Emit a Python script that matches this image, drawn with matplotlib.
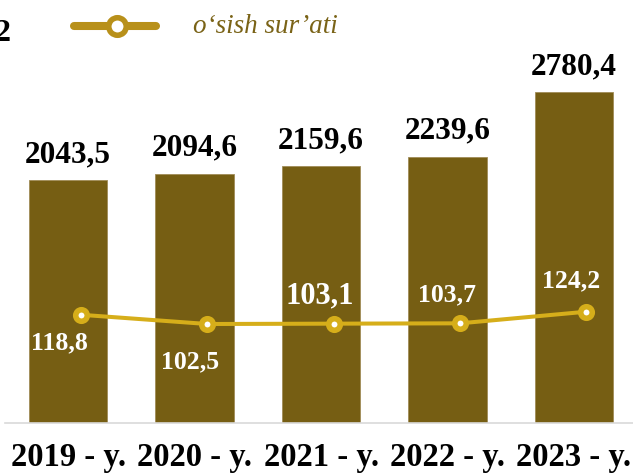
import matplotlib
matplotlib.use("Agg")
import matplotlib.pyplot as plt
from matplotlib.lines import Line2D

# ---- data ----
years = ["2019 - y.", "2020 - y.", "2021 - y.", "2022 - y.", "2023 - y."]
volume = [2043.5, 2094.6, 2159.6, 2239.6, 2780.4]
growth = [118.8, 102.5, 103.1, 103.7, 124.2]
legend_label = "o\u2018sish sur\u2019ati"

def fmt(v):
    return f"{v:.1f}".replace(".", ",")

W, H = 633, 475
fig = plt.figure(figsize=(W / 100, H / 100), dpi=100)
serif = ["Liberation Serif", "DejaVu Serif"]

bar_color = "#765E13"
line_color = "#D6AE1A"
legend_line_color = "#B8901A"
legend_text_color = "#7A6317"

ax = fig.add_axes([5 / W, (H - 423) / H, 632 / W, 356.7 / H])
x = list(range(len(years)))
ax.bar(x, volume, width=0.62, color=bar_color, edgecolor="#A08C58", linewidth=0.6, zorder=2)
ax.set_xlim(-0.5, 4.5)
ax.set_ylim(0, 3000)
for s in ["top", "left", "right"]:
    ax.spines[s].set_visible(False)
ax.spines["bottom"].set_color("#D9D9D9")
ax.spines["bottom"].set_linewidth(1.2)
ax.set_yticks([])
ax.set_xticks(x)
ax.set_xticklabels(years, fontfamily=serif, fontweight="bold", fontsize=23.5)
ax.tick_params(axis="x", length=0, pad=14)

for xi, v in zip(x, volume):
    ax.annotate(fmt(v), (xi, v), xytext=(0, 8), textcoords="offset points",
                ha="center", va="bottom", fontfamily=serif, fontweight="bold",
                fontsize=22.5, color="black")

ax2 = ax.twinx()
ax2.set_ylim(-72.1, 557)
ax2.set_axis_off()
line_x = [xi + 0.1 for xi in x]
ax2.plot(line_x, growth, color=line_color, lw=2.9, marker="o", ms=8.3, mew=4,
         mfc="white", mec=line_color, zorder=3, solid_capstyle="round")

lab_dx = [-6, -3, -1, 0, -2]          # points
lab_dy = [-20.5, -27.4, 20.2, 20.4, 22.3]  # points
lab_fs = [18.5, 18.5, 22, 18.5, 18.5]
for xi, g, dx, dy, fs in zip(x, growth, lab_dx, lab_dy, lab_fs):
    ax2.annotate(fmt(g), (xi + 0.1, g), xytext=(dx - 0.1 * 126.4 * 0.72, dy),
                 textcoords="offset points", ha="center", va="center",
                 fontfamily=serif, fontweight="bold", fontsize=fs, color="white",
                 zorder=4)

# ---- legend (manual, figure pixel coords) ----
def fy(py):
    return (H - py) / H

fig.add_artist(Line2D([74 / W, 156 / W], [fy(26), fy(26)], transform=fig.transFigure,
                      color=legend_line_color, lw=5.8, solid_capstyle="round"))
fig.add_artist(Line2D([117 / W], [fy(26)], transform=fig.transFigure, marker="o",
                      ms=12.6, mew=4, mfc="white", mec=legend_line_color, lw=0))
fig.text(193 / W, fy(33), legend_label, fontfamily=serif, style="italic",
         fontsize=19.5, color=legend_text_color, ha="left", va="baseline")
fig.text(11 / W, fy(41), "2", fontfamily=serif, fontweight="bold", fontsize=23,
         color="black", ha="right", va="baseline")

fig.savefig("out.png", dpi=100)
